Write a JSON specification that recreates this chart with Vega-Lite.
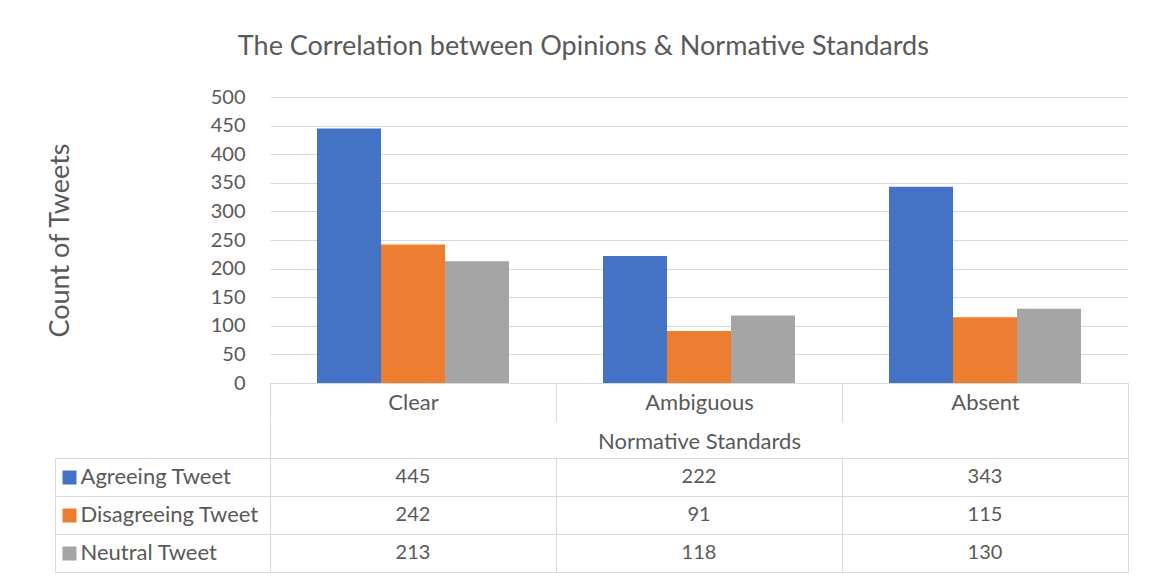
{
  "$schema": "https://vega.github.io/schema/vega-lite/v6.json",
  "padding": {"left": 46, "top": 33, "right": 21, "bottom": 12},
  "background": "white",
  "title": {"text": "The Correlation between Opinions & Normative Standards", "fontSize": 27, "fontWeight": "normal", "color": "#595959", "font": "Lato", "anchor": "middle", "offset": 26, "dx": -4},
  "datasets": {
    "rows": [
      {"category": "Clear", "series": "Agreeing Tweet", "count": 445},
      {"category": "Clear", "series": "Disagreeing Tweet", "count": 242},
      {"category": "Clear", "series": "Neutral Tweet", "count": 213},
      {"category": "Ambiguous", "series": "Agreeing Tweet", "count": 222},
      {"category": "Ambiguous", "series": "Disagreeing Tweet", "count": 91},
      {"category": "Ambiguous", "series": "Neutral Tweet", "count": 118},
      {"category": "Absent", "series": "Agreeing Tweet", "count": 343},
      {"category": "Absent", "series": "Disagreeing Tweet", "count": 115},
      {"category": "Absent", "series": "Neutral Tweet", "count": 130}
    ]
  },
  "data": {"name": "rows"},
  "spacing": -33,
  "vconcat": [
    {
      "width": 858,
      "height": 286,
      "mark": {"type": "bar"},
      "encoding": {
        "x": {
          "field": "category", "type": "nominal", "sort": ["Clear", "Ambiguous", "Absent"],
          "scale": {"paddingInner": 0, "paddingOuter": 0},
          "axis": {"title": "Normative Standards", "labelAngle": 0, "domainColor": "#D9D9D9", "tickColor": "#D9D9D9", "tickBand": "extent", "tickSize": 38, "labelPadding": -29, "labelFontSize": 22, "titleFontSize": 22, "titlePadding": 10, "grid": false}
        },
        "xOffset": {
          "field": "series", "type": "nominal", "sort": ["Agreeing Tweet", "Disagreeing Tweet", "Neutral Tweet"],
          "scale": {"paddingInner": 0, "paddingOuter": 0.734}
        },
        "y": {
          "field": "count", "type": "quantitative", "scale": {"domain": [0, 500]},
          "axis": {"title": "Count of Tweets", "values": [0, 50, 100, 150, 200, 250, 300, 350, 400, 450, 500], "grid": true, "gridColor": "#D9D9D9", "domain": false, "ticks": false, "labelPadding": 25, "labelFontSize": 20, "titleFontSize": 27, "titlePadding": 136}
        },
        "color": {
          "field": "series", "type": "nominal",
          "scale": {"domain": ["Agreeing Tweet", "Disagreeing Tweet", "Neutral Tweet"], "range": ["#4472C4", "#ED7D31", "#A5A5A5"]},
          "legend": null
        }
      }
    },
    {
      "width": 858,
      "height": 114,
      "layer": [
        {
          "mark": {"type": "text", "fontSize": 20, "color": "#595959"},
          "encoding": {
            "x": {
              "field": "category", "type": "nominal", "sort": ["Clear", "Ambiguous", "Absent"],
              "scale": {"paddingInner": 0, "paddingOuter": 0},
              "axis": {"title": null, "orient": "top", "labels": false, "ticks": true, "tickSize": 37, "tickColor": "#D9D9D9",
                "tickOpacity": {"condition": {"test": "datum.value === 'Clear' || datum.value === 'Ambiguous'", "value": 0}, "value": 1},
                "domain": false, "grid": true, "gridColor": "#D9D9D9", "tickBand": "extent"}
            },
            "y": {
              "field": "series", "type": "nominal", "sort": ["Agreeing Tweet", "Disagreeing Tweet", "Neutral Tweet"],
              "scale": {"paddingInner": 0, "paddingOuter": 0},
              "axis": {"title": null, "orient": "left", "labels": false, "domain": false, "ticks": true, "tickSize": 215, "tickColor": "#D9D9D9", "tickBand": "extent", "grid": true, "gridColor": "#D9D9D9"}
            },
            "text": {"field": "count", "type": "quantitative"}
          }
        },
        {
          "mark": {"type": "text", "opacity": 0},
          "encoding": {
            "y": {
              "field": "series", "type": "nominal", "sort": ["Agreeing Tweet", "Disagreeing Tweet", "Neutral Tweet"],
              "axis": {"title": null, "orient": "left", "offset": 194, "domain": false, "grid": false, "ticks": true, "tickSize": 14, "tickWidth": 14,
                "tickColor": {"condition": [{"test": "datum.value === 'Agreeing Tweet'", "value": "#4472C4"}, {"test": "datum.value === 'Disagreeing Tweet'", "value": "#ED7D31"}], "value": "#A5A5A5"},
                "labelAlign": "left", "labelPadding": -18, "labelFontSize": 22, "labelColor": "#595959", "labelLimit": 300, "labelBaseline": "middle"}
            },
            "text": {"field": "count", "type": "quantitative"}
          }
        },
        {
          "mark": {"type": "text", "opacity": 0},
          "encoding": {
            "y": {
              "field": "series", "type": "nominal", "sort": ["Agreeing Tweet", "Disagreeing Tweet", "Neutral Tweet"],
              "axis": {"title": null, "orient": "left", "offset": 215, "domain": true, "domainColor": "#D9D9D9", "ticks": false, "labels": false, "grid": false}
            },
            "text": {"field": "count", "type": "quantitative"}
          }
        }
      ],
      "resolve": {"axis": {"y": "independent"}}
    }
  ],
  "config": {
    "font": "Lato",
    "view": {"stroke": null},
    "axis": {"labelFont": "Lato", "titleFont": "Lato", "labelColor": "#595959", "titleColor": "#595959", "titleFontWeight": "normal"},
    "text": {"font": "Lato"}
  }
}
